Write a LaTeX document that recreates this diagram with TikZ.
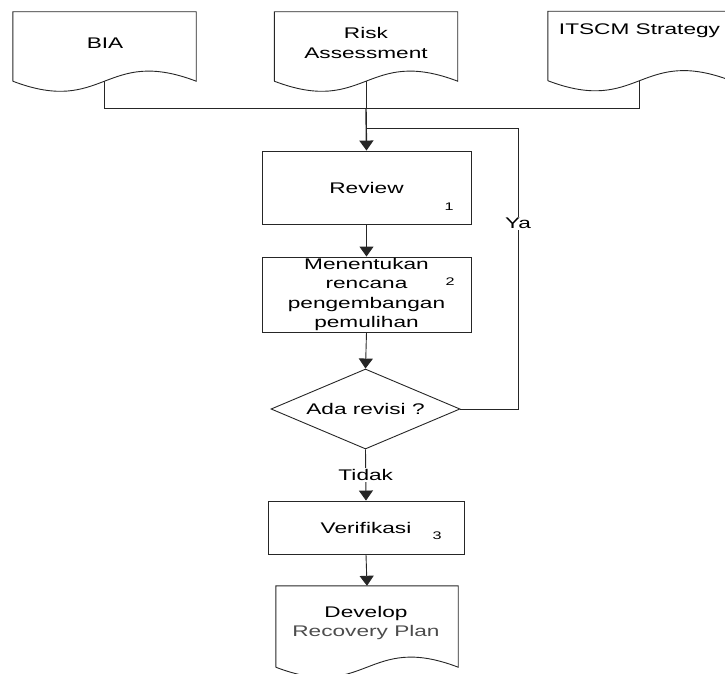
\documentclass[tikz,border=0pt]{standalone}
\usepackage{fontspec}
\setmainfont{Liberation Sans}[FakeStretch=1.47]
\usetikzlibrary{shapes.geometric,arrows.meta,calc}
\begin{document}
\begin{tikzpicture}[x=1pt,y=-1pt,
  wire/.style={draw=black!85,line width=0.9pt},
  doc/.style={minimum width=183pt,minimum height=69pt,inner sep=0pt},
  txt/.style={font=\fontsize{15.4}{19.5}\selectfont,align=center,inner sep=0pt},
  num/.style={font=\fontsize{11}{13}\selectfont,inner sep=0pt},
  procbox/.style={wire,rectangle,txt},
  flow/.style={wire,-{Triangle[length=10pt,width=14pt]}},
  tag/.style={txt,fill=white,inner sep=1.5pt}]
\useasboundingbox (0,0) rectangle (725,674);
\clip (0,0) rectangle (725,674);

% document shapes (outlines drawn below)
\node[doc] (bia)   at (104.5,46.5) {};
\node[doc] (risk)  at (366,46.5) {};
\node[doc] (itscm) at (639.5,46) {};
\node[doc,minimum width=182pt,minimum height=81pt] (plan) at (367,626.5) {};

\foreach \n in {bia,risk,itscm,plan}
  \draw[wire] (\n.south west) -- (\n.north west) -- (\n.north east) -- (\n.south east)
    .. controls ($(\n.south)+(0,-35)$) and ($(\n.south)+(0,35)$) .. (\n.south west);

\node[txt] (biat)   at (105,43)   {BIA};
\node[txt] (riskt)  at (366,43)   {Risk\\Assessment};
\node[txt] (itscmt) at (639.5,31) {ITSCM Strategy};
\node[txt] (plant)  at (366,623)  {Develop\\\textcolor{black!70}{Recovery Plan}};

% process steps
\node[procbox,minimum width=209pt,minimum height=73pt] (review) at (366.5,187.5) {Review};
\node[num] (n1) at (449,207) {1};
\node[procbox,minimum width=209pt,minimum height=75pt] (rencana) at (366.5,294.5)
  {Menentukan\\rencana\\pengembangan\\pemulihan};
\node[num] (n2) at (450,282) {2};
\node[wire,diamond,txt,shape aspect=2.3625,minimum width=189pt,minimum height=80pt] (dec)
  at (365.5,409) {Ada revisi ?};
\node[procbox,minimum width=196pt,minimum height=53pt] (verif) at (366,527.5) {Verifikasi};
\node[num] (n3) at (437,536) {3};

% connectors
\coordinate (merge)    at (366,108);
\coordinate (loopjoin) at (366,128);
\coordinate (loopturn) at (518,128);

\draw[wire] (bia.south) |- (merge);
\draw[wire] (itscm.south) |- (merge);
\draw[wire] (risk.south) -- (merge);
\draw[flow,line width=1.4pt] (merge) -- (review.north);
\draw[flow] (review.south) -- (rencana.north);
\draw[flow] (rencana.south) -- (dec.north);
\draw[wire] (dec.east) -- (dec.east -| loopturn) -- node[tag,pos=0.66] (ya) {Ya} (loopturn) -- (loopjoin);
\draw[flow] (dec.south) -- node[tag] (tidak) {Tidak} (verif.north);
\draw[flow] (verif.south) -- (plan.north);
\end{tikzpicture}
\end{document}
